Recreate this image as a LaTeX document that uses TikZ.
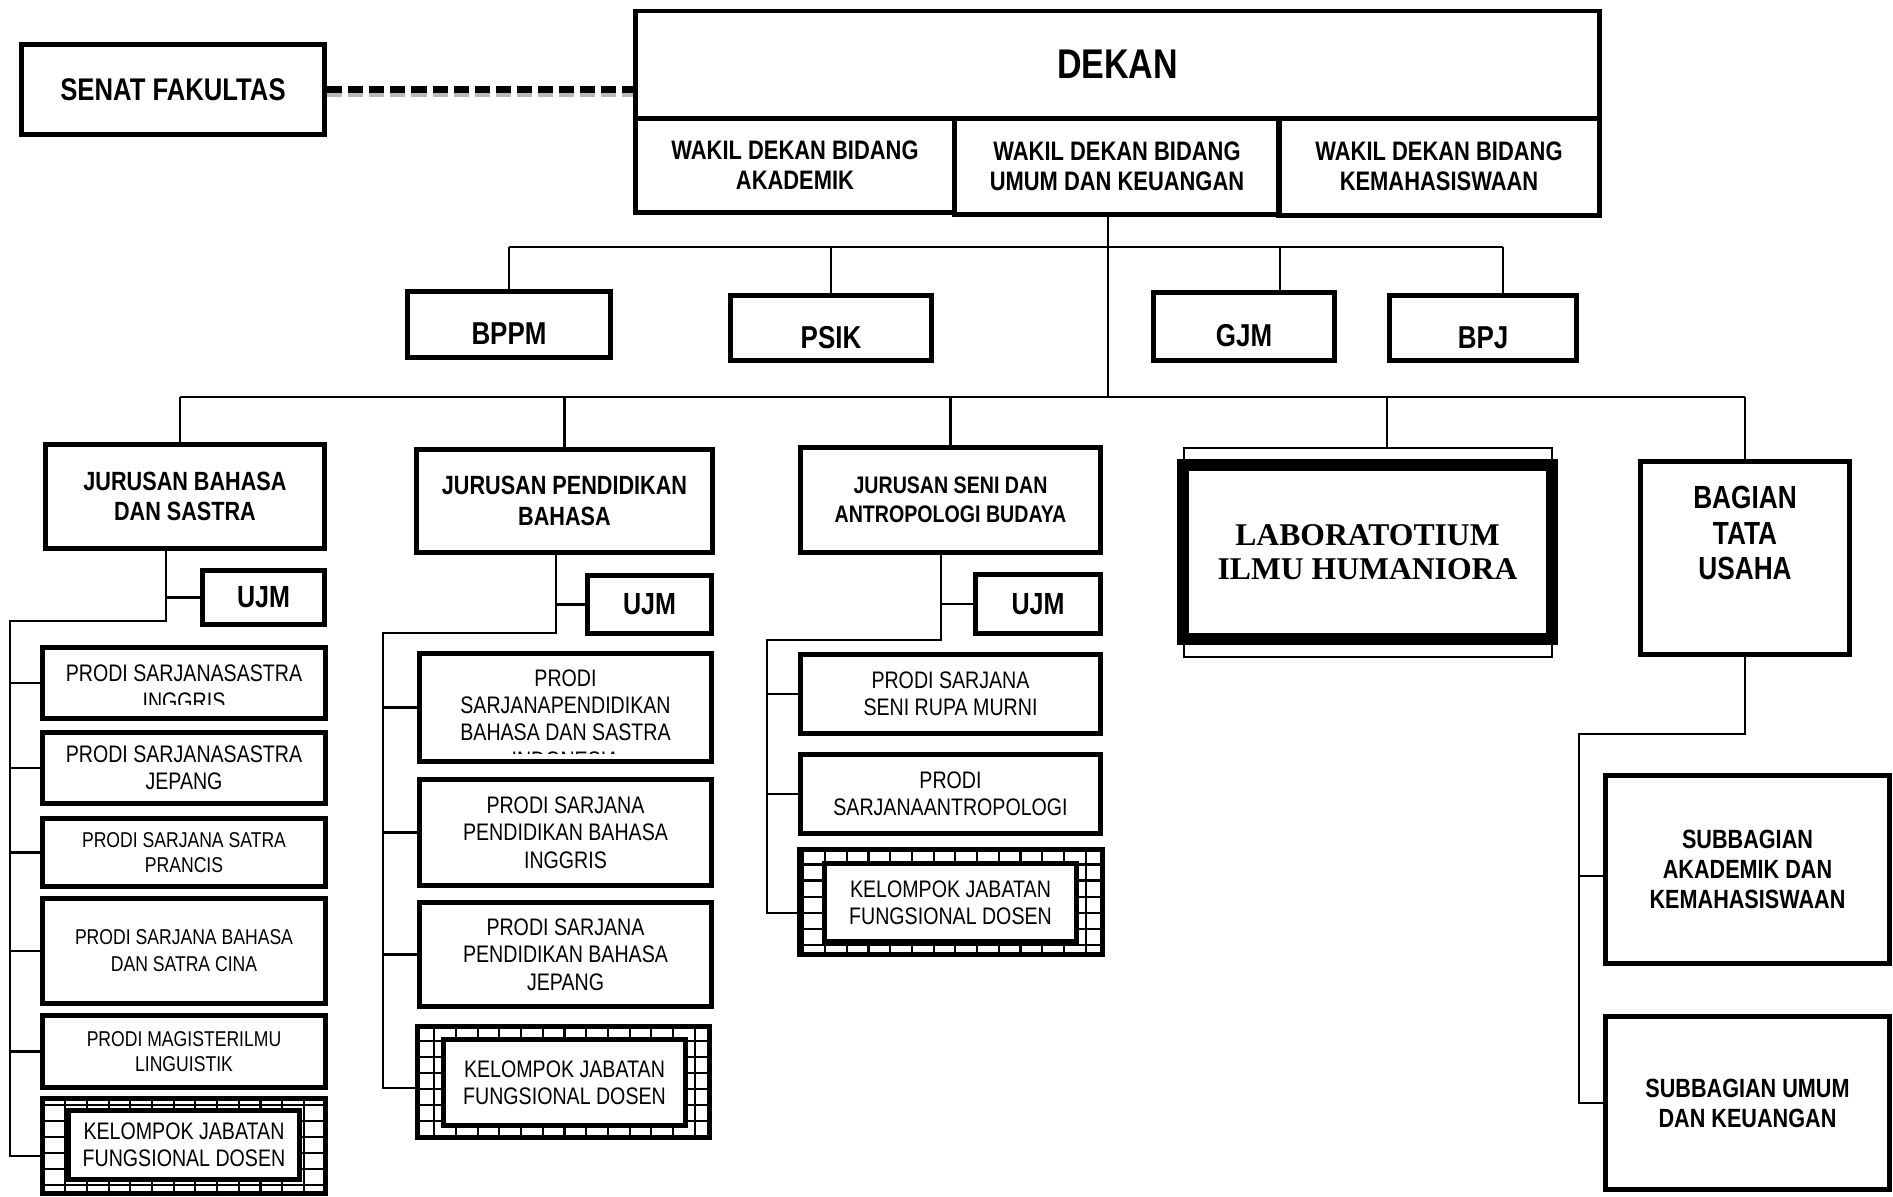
\documentclass[tikz,border=0pt]{standalone}
\usepackage{fontspec}
\setmainfont{Liberation Sans}[FakeStretch=0.82]
\newfontfamily\labfont{Liberation Serif}

\begin{document}
\begin{tikzpicture}[x=0.01cm, y=-0.01cm,
            box/.style={rectangle, draw=black, line width=1.4pt, inner sep=0pt, align=center},
            head/.style={box, font=\bfseries\fontsize{7.6}{8.5}\selectfont},
            unitbox/.style={box, font=\bfseries\fontsize{9}{10}\selectfont, text height=0.4cm, text depth=0pt, minimum height=0.66cm},
            jurusan/.style={box, font=\bfseries\fontsize{7.5}{8.7}\selectfont},
            ujm/.style={box, font=\bfseries\fontsize{8.7}{10}\selectfont},
            prodi/.style={box, font=\fontsize{6.8}{7.8}\selectfont},
            prodismall/.style={box, font=\fontsize{6.1}{7}\selectfont},
            kjfinner/.style={box, fill=white, font=\fontsize{6.8}{7.6}\selectfont},
            subbag/.style={box, font=\bfseries\fontsize{7.5}{8.5}\selectfont, minimum width=2.84cm},
            link/.style={line width=0.6pt},
            hatch/.style={line width=0.6pt, xstep=0.217cm, ystep=0.16cm}
        ]
            \useasboundingbox (0,0) rectangle (1893,1196);

% Pimpinan
            \node[box, font=\bfseries\fontsize{11.8}{13}\selectfont, minimum width=9.64cm, minimum height=1.07cm] (dekan) at (1117.5,64.5) {DEKAN};
            \node[head, minimum width=3.195cm, minimum height=0.94cm] (wd1) at (795,165) {WAKIL DEKAN BIDANG\\AKADEMIK};
            \node[head, minimum width=3.24cm, minimum height=0.96cm] (wd2) at (1117,166) {WAKIL DEKAN BIDANG\\UMUM DAN KEUANGAN};
            \node[head, minimum width=3.205cm, minimum height=0.97cm] (wd3) at (1439,166.5) {WAKIL DEKAN BIDANG\\KEMAHASISWAAN};
            \node[box, font=\bfseries\fontsize{8.9}{10}\selectfont, minimum width=3.03cm, minimum height=0.90cm] (senat) at (173,89.5) {SENAT FAKULTAS};

% Senat to Dekan
            \draw[gray!55, line width=2pt, dash pattern=on 4.3pt off 1.7pt, transform canvas={yshift=-0.035cm}] (senat.east) -- (senat.east -| dekan.west);
            \draw[line width=2pt, dash pattern=on 4.3pt off 1.7pt] (senat.east) -- (senat.east -| dekan.west);

% Badan
            \node[unitbox, minimum width=2.03cm] (bppm) at (509,324.5) {BPPM};
            \node[unitbox, minimum width=2.01cm, minimum height=0.65cm] (psik) at (831,328) {PSIK};
            \node[unitbox, minimum width=1.81cm, minimum height=0.68cm] (gjm) at (1244,326.5) {GJM};
            \node[unitbox, minimum width=1.87cm, minimum height=0.65cm] (bpj) at (1483,328) {BPJ};

% Jurusan, Laboratorium, Tata Usaha
            \node[jurusan, minimum width=2.79cm, minimum height=1.04cm] (jbs) at (185,496.5) {JURUSAN BAHASA\\DAN SASTRA};
            \node[jurusan, minimum width=2.96cm, minimum height=1.03cm] (jpb) at (564.5,501) {JURUSAN PENDIDIKAN\\BAHASA};
            \node[box, font=\bfseries\fontsize{6.8}{8.2}\selectfont, minimum width=3.0cm, minimum height=1.05cm] (jsab) at (950.5,500) {JURUSAN SENI DAN\\ANTROPOLOGI BUDAYA};
            \node[rectangle, draw=black, line width=0.45pt, minimum width=3.68cm, minimum height=2.09cm] (labframe) at (1368,552.5) {};
            \node[box, line width=3.4pt, font=\labfont\bfseries\fontsize{9}{9.7}\selectfont, minimum width=3.69cm, minimum height=1.74cm] (lab) at (1367.5,552) {LABORATOTIUM\\ILMU HUMANIORA};
            \node[box, minimum width=2.09cm, minimum height=1.93cm] (btu) at (1745,558) {};
            \node[align=center, inner sep=0pt, font=\bfseries\fontsize{9.1}{10.1}\selectfont] (btu text) at ([yshift=0.25cm]btu.center) {BAGIAN\\TATA\\USAHA};

% UJM
            \node[ujm, minimum width=1.22cm, minimum height=0.54cm] (ujm1) at (263.5,597.5) {UJM};
            \node[ujm, minimum width=1.24cm, minimum height=0.58cm] (ujm2) at (649.5,604.5) {UJM};
            \node[ujm, minimum width=1.25cm, minimum height=0.59cm] (ujm3) at (1038,604) {UJM};

% Prodi Jurusan Bahasa dan Sastra
            \node[prodi, minimum width=2.83cm, minimum height=0.71cm] (p1) at (184,683) {};
            \begin{scope}
                \clip (p1.north west) rectangle ([yshift=0.16cm]p1.south east);
                \node[prodi, draw=none, font=\fontsize{6.8}{8.1}\selectfont] (p1 text) at ([yshift=-0.04cm]p1.center) {PRODI SARJANASASTRA\\INGGRIS};
            \end{scope}
            \node[prodi, minimum width=2.83cm, minimum height=0.71cm] (p2) at (184,768) {PRODI SARJANASASTRA\\JEPANG};
            \node[prodismall, minimum width=2.83cm, minimum height=0.68cm] (p3) at (184,852.5) {PRODI SARJANA SATRA\\PRANCIS};
            \node[prodismall, font=\fontsize{6.1}{7.7}\selectfont, minimum width=2.83cm, minimum height=1.05cm] (p4) at (184,951) {PRODI SARJANA BAHASA\\DAN SATRA CINA};
            \node[prodismall, minimum width=2.83cm, minimum height=0.72cm] (p5) at (184,1051.5) {PRODI MAGISTERILMU\\LINGUISTIK};
            \node[box, minimum width=2.83cm, minimum height=0.95cm] (kjf1) at (184,1146) {};
            \draw[hatch] (kjf1.south west) grid (kjf1.north east);
            \node[kjfinner, minimum width=2.31cm, minimum height=0.69cm] (kjf1in) at (184,1145) {KELOMPOK JABATAN\\FUNGSIONAL DOSEN};

% Prodi Jurusan Pendidikan Bahasa
            \node[prodi, minimum width=2.92cm, minimum height=1.08cm] (q1) at (565.5,707.5) {};
            \begin{scope}
                \clip (q1.north west) rectangle ([yshift=0.11cm]q1.south east);
                \node[prodi, draw=none] (q1 text) at ([yshift=-0.115cm]q1.center) {PRODI\\SARJANAPENDIDIKAN\\BAHASA DAN SASTRA\\INDONESIA};
            \end{scope}
            \node[prodi, minimum width=2.92cm, minimum height=1.06cm] (q2) at (565.5,832.5) {PRODI SARJANA\\PENDIDIKAN BAHASA\\INGGRIS};
            \node[prodi, minimum width=2.92cm, minimum height=1.04cm] (q3) at (565.5,954.5) {PRODI SARJANA\\PENDIDIKAN BAHASA\\JEPANG};
            \node[box, minimum width=2.92cm, minimum height=1.11cm] (kjf2) at (563.5,1082) {};
            \draw[hatch] (kjf2.south west) grid (kjf2.north east);
            \node[kjfinner, minimum width=2.42cm, minimum height=0.86cm] (kjf2in) at (564.5,1082.5) {KELOMPOK JABATAN\\FUNGSIONAL DOSEN};

% Prodi Jurusan Seni dan Antropologi Budaya
            \node[prodi, minimum width=3.0cm, minimum height=0.79cm] (r1) at (950.5,694) {PRODI SARJANA\\SENI RUPA MURNI};
            \node[prodi, minimum width=3.0cm, minimum height=0.79cm] (r2) at (950.5,794) {PRODI\\SARJANAANTROPOLOGI};
            \node[box, minimum width=3.03cm, minimum height=1.05cm] (kjf3) at (951,902) {};
            \draw[hatch] (kjf3.south west) grid (kjf3.north east);
            \node[kjfinner, minimum width=2.52cm, minimum height=0.78cm] (kjf3in) at (950.5,902.5) {KELOMPOK JABATAN\\FUNGSIONAL DOSEN};

% Subbagian
            \node[subbag, minimum height=1.88cm] (s1) at (1747.5,869.5) {SUBBAGIAN\\AKADEMIK DAN\\KEMAHASISWAAN};
            \node[subbag, minimum height=1.73cm] (s2) at (1747.5,1103) {SUBBAGIAN UMUM\\DAN KEUANGAN};

% Connectors, top
            \coordinate (bar1) at (0,247);
            \coordinate (bar2) at (0,397);
            \coordinate (wd2 foot) at ([xshift=-0.09cm]wd2.south);
            \coordinate (gjm top) at ([xshift=0.36cm]gjm.north);
            \coordinate (bpj top) at ([xshift=0.2cm]bpj.north);
            \coordinate (jbs top) at ([xshift=-0.05cm]jbs.north);
            \coordinate (lab top) at ([xshift=0.19cm]labframe.north);
            \draw[link] (wd2 foot) -- (wd2 foot |- bar2);
            \draw[link] (bppm.north |- bar1) -- (bpj top |- bar1);
            \draw[link] (bppm.north) -- (bppm.north |- bar1);
            \draw[link] (psik.north) -- (psik.north |- bar1);
            \draw[link] (gjm top) -- (gjm top |- bar1);
            \draw[link] (bpj top) -- (bpj top |- bar1);
            \draw[link] (jbs top |- bar2) -- (btu.north |- bar2);
            \draw[link] (jbs top) -- (jbs top |- bar2);
            \draw[link] (jpb.north) -- (jpb.north |- bar2);
            \draw[link] (jsab.north) -- (jsab.north |- bar2);
            \draw[link] (lab top) -- (lab top |- bar2);
            \draw[link] (btu.north) -- (btu.north |- bar2);

% Connectors, Jurusan Bahasa dan Sastra
            \coordinate (jbs foot) at ([xshift=-0.19cm]jbs.south);
            \coordinate (rail1) at (10,621);
            \coordinate (kjf1 hook) at ([yshift=-0.1cm]kjf1.west);
            \draw[link] (jbs foot) |- (rail1) -- (rail1 |- kjf1 hook) -- (kjf1 hook);
            \draw[link] (jbs foot |- ujm1.west) -- (ujm1.west);
            \draw[link] (rail1 |- p1.west) -- (p1.west);
            \draw[link] (rail1 |- p2.west) -- (p2.west);
            \draw[link] (rail1 |- p3.west) -- (p3.west);
            \draw[link] (rail1 |- p4.west) -- (p4.west);
            \draw[link] (rail1 |- p5.west) -- (p5.west);

% Connectors, Jurusan Pendidikan Bahasa
            \coordinate (jpb foot) at ([xshift=-0.085cm]jpb.south);
            \coordinate (rail2) at (383,633);
            \coordinate (kjf2 hook) at ([yshift=-0.06cm]kjf2.west);
            \draw[link] (jpb foot) |- (rail2) -- (rail2 |- kjf2 hook) -- (kjf2 hook);
            \draw[link] (jpb foot |- ujm2.west) -- (ujm2.west);
            \draw[link] (rail2 |- q1.west) -- (q1.west);
            \draw[link] (rail2 |- q2.west) -- (q2.west);
            \draw[link] (rail2 |- q3.west) -- (q3.west);

% Connectors, Jurusan Seni dan Antropologi Budaya
            \coordinate (jsab foot) at ([xshift=-0.095cm]jsab.south);
            \coordinate (rail3) at (767,640);
            \coordinate (kjf3 hook) at ([yshift=-0.11cm]kjf3.west);
            \draw[link] (jsab foot) |- (rail3) -- (rail3 |- kjf3 hook) -- (kjf3 hook);
            \draw[link] (jsab foot |- ujm3.west) -- (ujm3.west);
            \draw[link] (rail3 |- r1.west) -- (r1.west);
            \draw[link] (rail3 |- r2.west) -- (r2.west);

% Connectors, Tata Usaha
            \coordinate (rail4) at (1579,734);
            \coordinate (s1 hook) at ([yshift=-0.065cm]s1.west);
            \draw[link] (btu.south) |- (rail4) -- (rail4 |- s2.west) -- (s2.west);
            \draw[link] (rail4 |- s1 hook) -- (s1 hook);

        \end{tikzpicture}
\end{document}
